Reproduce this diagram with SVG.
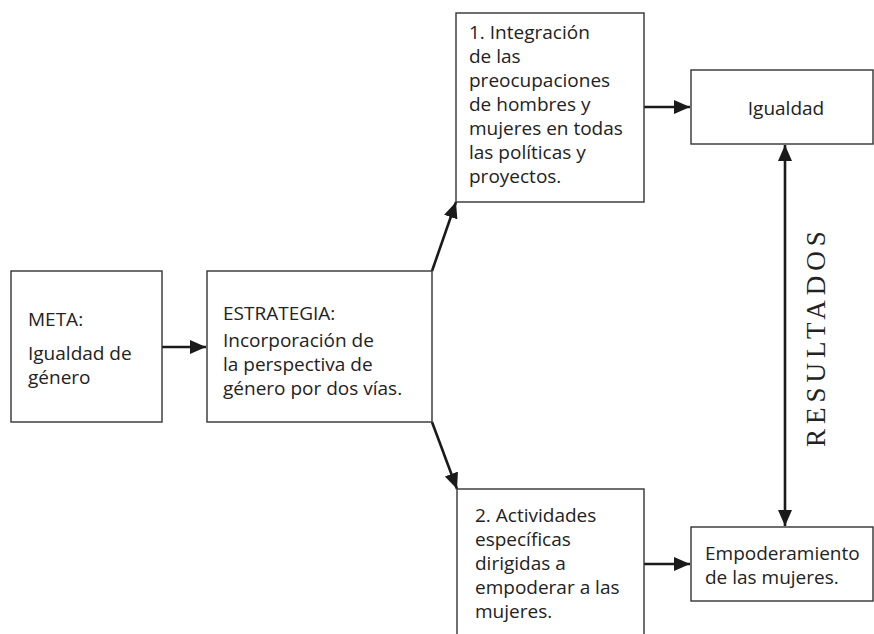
<svg xmlns="http://www.w3.org/2000/svg" width="874" height="634" viewBox="0 0 874 634">
<defs>
<marker id="ah" markerUnits="userSpaceOnUse" markerWidth="17" markerHeight="15" refX="16" refY="7" orient="auto-start-reverse">
<path d="M0,0 L16,7 L0,14 z" fill="#1a1a1a"/>
</marker>
<style>
.box{fill:#fff;stroke:#333;stroke-width:1.4}
.t{font-family:"Open Sans","Liberation Sans",sans-serif;font-size:19px;fill:#222}
.c{fill:none;stroke:#1a1a1a;stroke-width:2.6}
.r{font-family:"Liberation Serif","Times New Roman",serif;font-size:27px;fill:#222;letter-spacing:5px}
</style>
</defs>
<rect width="874" height="634" fill="#fff"/>
<g id="connectors">
<line class="c" x1="162" y1="347" x2="206" y2="347" marker-end="url(#ah)"/>
<line class="c" x1="432" y1="271" x2="456" y2="202" marker-end="url(#ah)"/>
<line class="c" x1="432" y1="422" x2="457" y2="489" marker-end="url(#ah)"/>
<line class="c" x1="644" y1="107" x2="690" y2="107" marker-end="url(#ah)"/>
<line class="c" x1="644" y1="564" x2="690" y2="564" marker-end="url(#ah)"/>
<line class="c" x1="785" y1="145" x2="785" y2="526" marker-start="url(#ah)" marker-end="url(#ah)"/>
</g>
<g id="meta">
<rect class="box" x="11" y="271" width="151" height="151"/>
<text class="t" x="28" y="326">META:</text>
<text class="t" x="28" y="360">Igualdad de</text>
<text class="t" x="28" y="384">género</text>
</g>
<g id="estrategia">
<rect class="box" x="207" y="271" width="225" height="151"/>
<text class="t" x="223" y="320">ESTRATEGIA:</text>
<text class="t" x="223" y="347">Incorporación de</text>
<text class="t" x="223" y="371">la perspectiva de</text>
<text class="t" x="223" y="395">género por dos vías.</text>
</g>
<g id="integracion">
<rect class="box" x="456" y="13" width="188" height="189"/>
<text class="t" x="469" y="39">1. Integración</text>
<text class="t" x="469" y="63">de las</text>
<text class="t" x="469" y="87">preocupaciones</text>
<text class="t" x="469" y="111">de hombres y</text>
<text class="t" x="469" y="135">mujeres en todas</text>
<text class="t" x="469" y="159">las políticas y</text>
<text class="t" x="469" y="183">proyectos.</text>
</g>
<g id="igualdad">
<rect class="box" x="691" y="70" width="182" height="74"/>
<text class="t" x="786" y="115" text-anchor="middle">Igualdad</text>
</g>
<g id="actividades">
<rect class="box" x="457" y="489" width="187" height="160"/>
<text class="t" x="475" y="522">2. Actividades</text>
<text class="t" x="475" y="546">específicas</text>
<text class="t" x="475" y="570">dirigidas a</text>
<text class="t" x="475" y="594">empoderar a las</text>
<text class="t" x="475" y="618">mujeres.</text>
</g>
<g id="empoderamiento">
<rect class="box" x="691" y="527" width="182" height="74"/>
<text class="t" x="705" y="560">Empoderamiento</text>
<text class="t" x="705" y="584">de las mujeres.</text>
</g>
<g id="resultados">
<text class="r" transform="translate(825,447) rotate(-90)">RESULTADOS</text>
</g>
</svg>
